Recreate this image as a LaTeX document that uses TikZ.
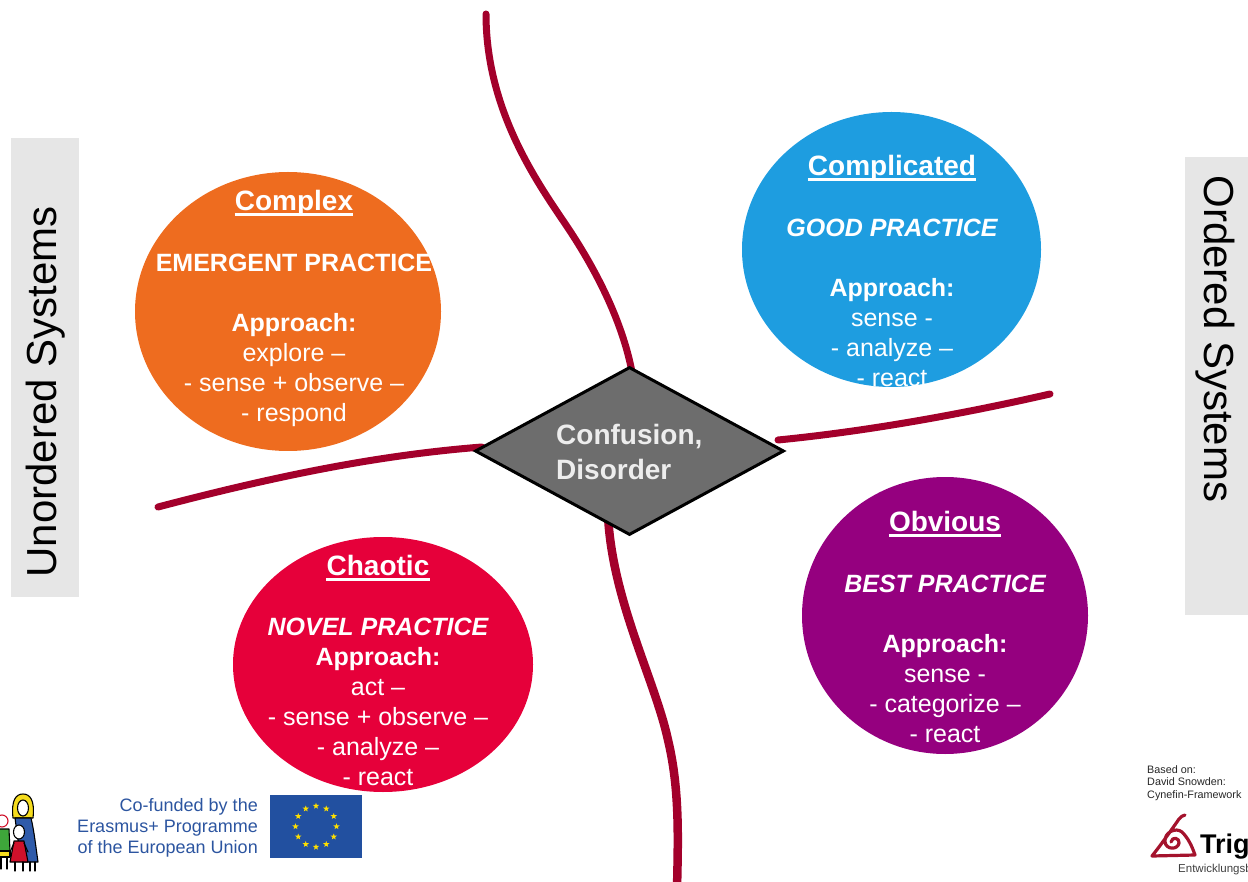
\documentclass[tikz,border=0pt]{standalone}
\usepackage{fontspec}
\setmainfont{Liberation Sans}
\usetikzlibrary{shapes.geometric}

\definecolor{cxorange}{HTML}{EE6C1F}
\definecolor{cdblue}{HTML}{1E9DE0}
\definecolor{obpurple}{HTML}{95007F}
\definecolor{chred}{HTML}{E6003A}
\definecolor{faultred}{HTML}{A3002B}
\definecolor{sysgrey}{HTML}{E6E6E6}
\definecolor{diagrey}{HTML}{6D6D6D}
\definecolor{distext}{HTML}{EDEDED}
\definecolor{eublue}{HTML}{2250A0}
\definecolor{euyellow}{HTML}{FFE000}
\definecolor{cofund}{HTML}{2C55A0}
\definecolor{trigred}{HTML}{A4132D}
\definecolor{famyellow}{HTML}{F5DC1E}
\definecolor{famblue}{HTML}{2F5BAA}
\definecolor{famred}{HTML}{D0112B}
\definecolor{famgreen}{HTML}{3EA63A}

\begin{document}
\begin{tikzpicture}[x=1pt,y=-1pt,
  sysbox/.style={fill=sysgrey, draw=none, rectangle, inner sep=0, outer sep=0},
  systxt/.style={font=\fontsize{42}{48}\selectfont, text=black, inner sep=0},
  fault/.style={faultred, line width=7, line cap=round},
  domblob/.style={ellipse, draw=none, inner sep=0, outer sep=0},
  ttl/.style={font=\bfseries\fontsize{28}{32}\selectfont, text=white, inner sep=0, anchor=base},
  prac/.style={font=\bfseries\fontsize{25}{30}\selectfont, text=white, inner sep=0, anchor=base},
  pracit/.style={font=\bfseries\itshape\fontsize{25}{30}\selectfont, text=white, inner sep=0, anchor=base},
  body/.style={font=\fontsize{25}{30}\selectfont, text=white, inner sep=0, anchor=base},
  ul/.style={white, line width=2.4},
  famline/.style={black, line width=1.1, line join=round, line cap=round}
]
\useasboundingbox (0,0) rectangle (1248,882);
\clip (0,0) rectangle (1248,882);

% side labels
\node[sysbox, minimum width=68, minimum height=459] (unordbox) at (45,367.5) {};
\node[systxt, rotate=90] (unord) at (46,392) {Unordered Systems};
\node[sysbox, minimum width=80, minimum height=458] (ordbox) at (1225,386) {};
\node[systxt, rotate=-90] (ord) at (1215,339) {Ordered Systems};

% domain boundaries
\draw[fault] (486,14) .. controls (486,110) and (537,182) .. (566,225)
  .. controls (595,268) and (622,320) .. (632,372);
\draw[fault, line width=8.5] (608,515) .. controls (612,600) and (655,680) .. (668,740)
  .. controls (680,790) and (678,840) .. (677,890);
\draw[fault] (158,507) .. controls (280,475) and (380,455) .. (482,447);
\draw[fault] (778,440) .. controls (880,430) and (980,410) .. (1050,394);

% the four domains
\node[domblob, fill=cxorange, minimum width=306, minimum height=279] (complex) at (288,311.5) {};
\node[domblob, fill=cdblue, minimum width=299, minimum height=275] (complicated) at (891.5,249.5) {};
\node[domblob, fill=obpurple, minimum width=286, minimum height=277] (obvious) at (945,615.5) {};
\node[domblob, fill=chred, minimum width=300, minimum height=255] (chaotic) at (383,664.5) {};

\begin{scope}[yshift=-2.5]
% Complex
\node[ttl] (cx1) at (294,208) {Complex};
\draw[ul] ([yshift=-4]cx1.base west) -- ([yshift=-4]cx1.base east);
\node[prac] (cx2) at (294,269) {EMERGENT PRACTICE};
\node[prac] (cx3) at (294,329) {Approach:};
\node[body] (cx4) at (294,359) {explore –};
\node[body] (cx5) at (294,389) {- sense + observe –};
\node[body] (cx6) at (294,419) {- respond};

% Complicated
\node[ttl] (cd1) at (892,173) {Complicated};
\draw[ul] ([yshift=-4]cd1.base west) -- ([yshift=-4]cd1.base east);
\node[pracit] (cd2) at (892,234) {GOOD PRACTICE};
\node[prac] (cd3) at (892,294) {Approach:};
\node[body] (cd4) at (892,324) {sense -};
\node[body] (cd5) at (892,354) {- analyze –};
\node[body] (cd6) at (892,384) {- react};

% Obvious
\node[ttl] (ob1) at (945,529) {Obvious};
\draw[ul] ([yshift=-4]ob1.base west) -- ([yshift=-4]ob1.base east);
\node[pracit] (ob2) at (945,590) {BEST PRACTICE};
\node[prac] (ob3) at (945,650) {Approach:};
\node[body] (ob4) at (945,680) {sense -};
\node[body] (ob5) at (945,710) {- categorize –};
\node[body] (ob6) at (945,740) {- react};

% Chaotic
\node[ttl] (ch1) at (378,573) {Chaotic};
\draw[ul] ([yshift=-4]ch1.base west) -- ([yshift=-4]ch1.base east);
\node[pracit] (ch2) at (378,633) {NOVEL PRACTICE};
\node[prac] (ch3) at (378,663) {Approach:};
\node[body] (ch4) at (378,693) {act –};
\node[body] (ch5) at (378,723) {- sense + observe –};
\node[body] (ch6) at (378,753) {- analyze –};
\node[body] (ch7) at (378,783) {- react};
\end{scope}

% disorder in the centre
\node[diamond, draw=black, line width=3, fill=diagrey, minimum width=309, minimum height=168, inner sep=0] (disorder) at (629.5,451) {};
\node[font=\bfseries\fontsize{28}{35}\selectfont, text=distext, align=left, inner sep=0, anchor=north west] (distxt) at (556,424.5) {Confusion,\\Disorder};

% funding notice
\node[font=\fontsize{18}{21}\selectfont, text=cofund, align=right, inner sep=0, anchor=north east] (cofunded) at (258,798) {Co-funded by the\\Erasmus+ Programme\\of the European Union};
\node[rectangle, fill=eublue, minimum width=92, minimum height=63, inner sep=0] (flag) at (316,826.5) {};
\foreach \a in {0,30,...,330}
  \node[star, star points=5, star point ratio=2.4, fill=euyellow, minimum size=6.5, inner sep=0] (star\a) at ([shift={(\a:20.5)}]flag.center) {};

% family logo
\begin{scope}
  % child at the edge
  \draw[famline, fill=famgreen] (-3,829) -- (9,829) -- (10,851) -- (-3,851) -- cycle;
  \draw[famline, fill=famyellow] (-3,851) -- (10,851) -- (10,857) -- (-3,857) -- cycle;
  \draw[famline] (1,857) -- (1,869) (7,857) -- (7,869);
  \draw[famline, draw=famred, fill=white] (2,821) circle (6);
  % woman
  \draw[famline, fill=famyellow] (13,818) .. controls (11,800) and (16,794) .. (23,794)
     .. controls (30,794) and (35,800) .. (33,818) -- cycle;
  \draw[famline, fill=white] (23,808) ellipse (5.5 and 8);
  \draw[famline, fill=famblue] (15,818) -- (31,818) .. controls (34,830) and (36,848) .. (38,862)
     -- (24,862) -- (18,840) -- cycle;
  \draw[famline] (30,862) -- (30,871) (35,862) -- (35,871);
  % girl
  \draw[famline, fill=famred] (14,841) -- (24,841) -- (28,862) -- (10,862) -- cycle;
  \draw[famline, fill=white] (19,832) ellipse (5.5 and 7);
  \draw[famline] (15,862) -- (15,871) (23,862) -- (23,871);
  \draw[famline] (14,843) -- (10,852) (24,843) -- (28,852);
\end{scope}

% source note
\node[font=\fontsize{10.8}{12.5}\selectfont, text=black!85, align=left, inner sep=0, anchor=north west] (source) at (1147,765) {Based on:\\David Snowden:\\Cynefin-Framework};

% Trigon logo
\draw[trigred, line width=3.2, line cap=round, line join=round]
  (1185,815) .. controls (1182,816) .. (1179,819)
  .. controls (1170,832) and (1160,846) .. (1152,856)
  -- (1195,855)
  .. controls (1192,846) and (1188,838) .. (1182,832)
  .. controls (1176,827) and (1164,832) .. (1165,842)
  .. controls (1166,850) and (1178,850) .. (1179,843)
  .. controls (1180,838) and (1172,836) .. (1171,842);
\node[font=\bfseries\fontsize{27}{30}\selectfont, text=black, inner sep=0, anchor=base west] (trig) at (1200,853) {Trig};
\node[font=\fontsize{11.5}{13}\selectfont, text=black!75, inner sep=0, anchor=base west] (entw) at (1178,872) {Entwicklungsb};
\end{tikzpicture}
\end{document}
